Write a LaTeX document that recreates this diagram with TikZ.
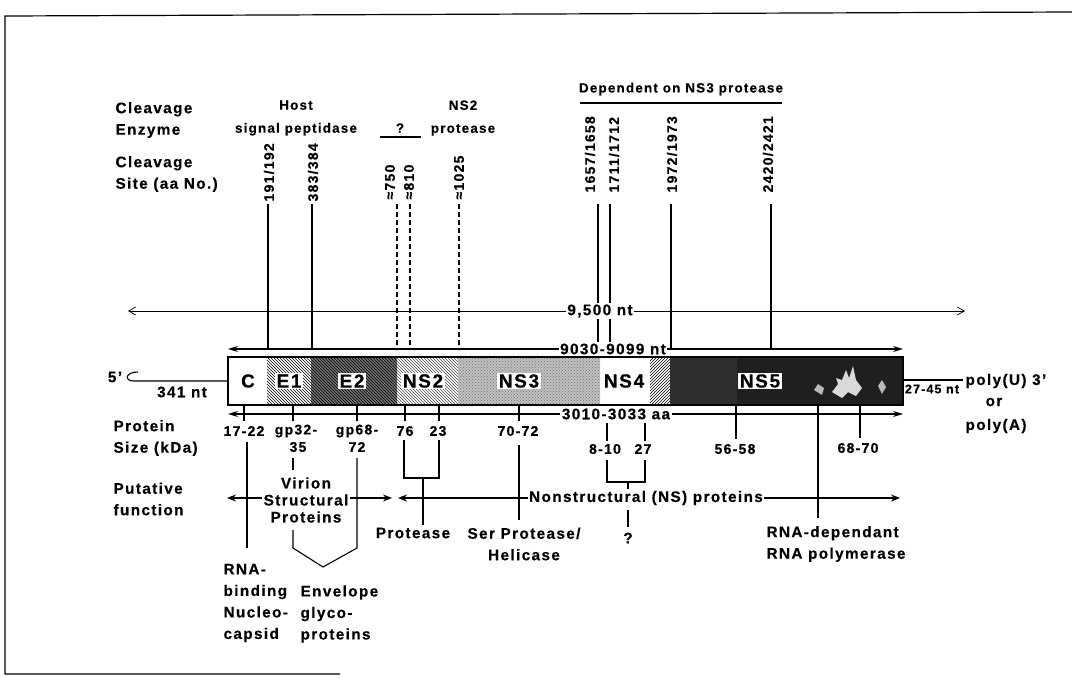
\documentclass[tikz,border=0pt]{standalone}
\usepackage{fontspec}
\setmainfont{Liberation Sans}[LetterSpace=9,BoldFeatures={FakeBold=0.4}]
\usetikzlibrary{arrows.meta,patterns}

\begin{document}
\begin{tikzpicture}[x=1pt,y=-1pt,line width=1.1pt,
  font=\bfseries\fontsize{15.3}{21.5}\selectfont,
  txt/.style={inner sep=1pt},
  sml/.style={inner sep=1pt,font=\bfseries\fontsize{13.4}{23}\selectfont},
  kda/.style={inner sep=1pt,font=\bfseries\fontsize{14}{16}\selectfont},
  site/.style={rotate=90,anchor=west,inner sep=0pt,font=\bfseries\fontsize{14}{16}\selectfont},
  seg/.style={fill=white,inner sep=1.5pt,font=\bfseries\fontsize{19}{21}\selectfont},
  onln/.style={fill=white,inner sep=1.5pt},
  approx/.style={dash pattern=on 5pt off 3pt},
  span/.style={{Stealth[length=10pt,width=6pt]}-{Stealth[length=10pt,width=6pt]}},
  thin span/.style={{Straight Barb[length=7pt,width=8pt,line width=0.7pt]}-{Straight Barb[length=7pt,width=8pt,line width=0.7pt]},line width=0.8pt},
  func/.style={{Stealth[length=9pt,width=7pt]}-{Stealth[length=9pt,width=7pt]}}]
\useasboundingbox (0,0) rectangle (1072,678);
\draw[line width=1.2pt] (1072,12) -- (5,16) -- (5,674) -- (340,674);

% row titles
\node[txt,anchor=west,align=left] (enz) at (114,120) {Cleavage\\Enzyme};
\node[txt,anchor=west,align=left] (site) at (114,174) {Cleavage\\Site (aa No.)};
\node[txt,anchor=west,align=left] (size) at (112,438) {Protein\\Size (kDa)};
\node[txt,anchor=west,align=left] (role) at (112,499) {Putative\\function};

% cleavage enzymes
\node[sml,align=center] (host) at (296,118) {Host\\signal peptidase};
\node[sml] (unk) at (400,128) {?};
\draw[line width=2pt] (380,137) -- (421,137);
\node[sml,align=center] (ns2p) at (463,118) {NS2\\protease};
\node[sml] (ns3p) at (681,89) {Dependent on NS3 protease};
\draw[line width=1.8pt] (580,103) -- (782,103);

% cleavage sites
\node[site] (c191) at (269,202) {191/192};
\node[site] (c383) at (313,202) {383/384};
\node[site] (c750) at (390,200) {≈750};
\node[site] (c810) at (409,200) {≈810};
\node[site] (c1025) at (459,200) {≈1025};
\node[site] (c1657) at (590,193) {1657/1658};
\node[site] (c1711) at (614,193) {1711/1712};
\node[site] (c1972) at (672,193) {1972/1973};
\node[site] (c2420) at (768,193) {2420/2421};
\draw (268,204) -- (268,349);
\draw (312,204) -- (312,349);
\draw[approx] (397,204) -- (397,349);
\draw[approx] (410,204) -- (410,349);
\draw[approx] (459,204) -- (459,349);
\draw (598,204) -- (598,349);
\draw (610,204) -- (610,349);
\draw (671,204) -- (671,349);
\draw (771,204) -- (771,349);

% lengths
\draw[thin span] (128,311) -- (965,311);
\node[onln] (gen) at (600,311) {9,500 nt};
\draw[span] (228,349) -- (903,349);
\node[onln] (orf) at (613,349) {9030-9099 nt};

% polyprotein
\fill[white] (228,357) rectangle (267,405);
\fill[pattern=north west lines] (267,357) rectangle (311,405);
\fill[black!55] (311,357) rectangle (397,405);
\fill[pattern=north west lines,pattern color=black] (311,357) rectangle (397,405);
\fill[pattern=north west lines,pattern color=black!70] (397,357) rectangle (458,405);
\fill[gray!50] (458,357) rectangle (600,405);
\fill[pattern=crosshatch dots,pattern color=black!55] (458,357) rectangle (600,405);
\fill[pattern=north east lines] (650,357) rectangle (670,405);
\fill[black!82] (670,357) rectangle (737,405);
\fill[black!88] (737,357) rectangle (903,405);
\fill[gray!30] (832,392) -- (838,384) -- (836,378) -- (842,380) -- (846,370) -- (849,378) -- (853,366) -- (856,380) -- (862,388) -- (856,396) -- (848,392) -- (842,398) -- cycle;
\fill[gray!55] (814,390) -- (818,384) -- (824,388) -- (822,395) -- cycle;
\fill[gray!55] (878,386) -- (882,380) -- (886,387) -- (882,394) -- cycle;
\draw[line width=1.2pt] (228,357) rectangle (903,405);
\node[seg,fill=none] (pC) at (248,381) {C};
\node[seg] (pE1) at (289,381) {E1};
\node[seg] (pE2) at (352,381) {E2};
\node[seg] (pNS2) at (423,381) {NS2};
\node[seg] (pNS3) at (519,381) {NS3};
\node[seg] (pNS4) at (624,381) {NS4};
\node[seg] (pNS5) at (760,381) {NS5};

% ends
\node[txt] (five) at (115,377) {5'};
\draw (138,372) .. controls (125,372) and (124,381) .. (134,381) -- (228,381);
\node[txt] (utr5) at (182,392) {341 nt};
\draw (903,380) -- (963,380);
\node[txt,font=\bfseries\fontsize{12.5}{14}\selectfont,inner sep=0pt] (utr3) at (932,389) {27-45 nt};
\node[txt,anchor=west] (polyU) at (964,381) {poly(U) 3'};
\node[txt] (or) at (994,402) {or};
\node[txt,anchor=west] (polyA) at (964,426) {poly(A)};

% protein length
\draw[span] (228,414) -- (903,414);
\node[onln] (aa) at (616,414) {3010-3033 aa};
\foreach \x in {244,293,357,405,439,519}
  \draw (\x,405) -- (\x,421);
\draw (607,423) -- (607,441);
\draw (645,423) -- (645,441);
\draw (736,405) -- (736,439);
\draw (860,405) -- (860,438);
\draw (818,405) -- (818,518);

% protein sizes
\node[kda] (kC) at (244,431) {17-22};
\node[kda] (kE1) at (296,431) {gp32-};
\node[kda] (kE1b) at (298,447) {35};
\node[kda] (kE2) at (357,431) {gp68-};
\node[kda] (kE2b) at (357,447) {72};
\node[kda] (k76) at (405,431) {76};
\node[kda] (k23) at (438,431) {23};
\node[kda] (kNS3) at (518,431) {70-72};
\node[kda] (k810) at (605,449) {8-10};
\node[kda] (k27) at (643,449) {27};
\node[kda] (kNS5a) at (735,449) {56-58};
\node[kda] (kNS5b) at (858,448) {68-70};

% functions
\draw[func] (227,498) -- (392,498);
\draw[func] (398,498) -- (900,498);
\draw (247,442) -- (247,548);
\draw (293,458) -- (293,470);
\draw (357,458) -- (357,548) -- (323,567) -- (293,548) -- (293,530);
\draw (404,440) -- (404,478) -- (439,478) -- (439,440);
\draw (423,478) -- (423,525);
\draw (519,445) -- (519,520);
\draw (607,460) -- (607,482) -- (645,482) -- (645,460);
\draw (628,482) -- (628,490);
\draw (628,510) -- (628,527);
\node[onln,align=center,font=\bfseries\fontsize{15.3}{17}\selectfont] (struct) at (306,500) {Virion\\Structural\\Proteins};
\node[onln] (nonst) at (646,498) {Nonstructural (NS) proteins};
\node[txt,align=left,anchor=west] (capsid) at (222,603) {RNA-\\binding\\Nucleo-\\capsid};
\node[txt,align=left,anchor=west] (envel) at (299,614) {Envelope\\glyco-\\proteins};
\node[txt] (prot) at (413,533) {Protease};
\node[txt,align=center] (hel) at (524,544) {Ser Protease/\\Helicase};
\node[txt] (qm) at (628,538) {?};
\node[txt,align=left,anchor=west] (pol) at (765,544) {RNA-dependant\\RNA polymerase};
\end{tikzpicture}
\end{document}
